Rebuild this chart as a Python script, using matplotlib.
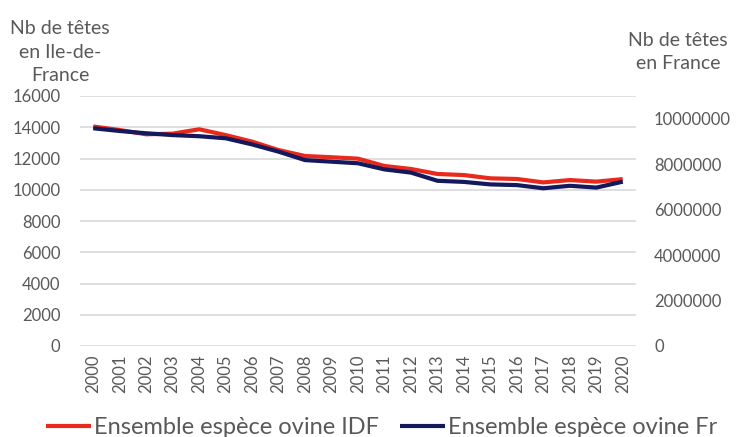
import matplotlib
matplotlib.use("Agg")
import matplotlib.pyplot as plt
from matplotlib.ticker import FuncFormatter

plt.rcParams['font.family'] = ['Lato', 'DejaVu Sans']

years = [str(y) for y in range(2000, 2021)]
idf = [14050, 13820, 13550, 13590, 13870, 13500, 13080, 12540, 12160, 12080,
       11990, 11520, 11330, 11010, 10940, 10730, 10690, 10470, 10620, 10520, 10680]
france = [9580000, 9460000, 9360000, 9280000, 9230000, 9140000, 8870000, 8550000,
          8180000, 8110000, 8040000, 7770000, 7630000, 7270000, 7220000, 7110000,
          7080000, 6940000, 7050000, 6970000, 7230000]
left_ticks = list(range(0, 16001, 2000))
right_ticks = list(range(0, 10000001, 2000000))
label_idf = "Ensemble espèce ovine IDF"
label_fr = "Ensemble espèce ovine Fr"

W, H = 739, 437
fig = plt.figure(figsize=(W / 100, H / 100), dpi=100)
ax = fig.add_axes([80 / W, (H - 346) / H, (636 - 80) / W, 250 / H])
ax2 = ax.twinx()

grey = '#595959'
red = '#E8291C'
navy = '#13195C'

x = list(range(len(years)))
l1, = ax.plot(x, idf, color=red, lw=3.0, solid_capstyle='butt', zorder=3)
l2, = ax2.plot(x, france, color=navy, lw=3.0, solid_capstyle='butt', zorder=3)

ax.set_ylim(0, 16000)
ax.set_yticks(left_ticks)
ax2.set_ylim(0, 11000000)
ax2.set_yticks(right_ticks)
ax2.yaxis.set_major_formatter(FuncFormatter(lambda v, p: f"{int(round(v))}"))
ax.set_xlim(-0.5, len(years) - 0.5)
ax.set_xticks(x)
ax.set_xticklabels(years, rotation=90)

ax.grid(axis='y', color='#d9d9d9', lw=1.2, zorder=0)
ax.set_axisbelow(True)
for a in (ax, ax2):
    for s in a.spines.values():
        s.set_visible(False)
    a.tick_params(length=0, colors=grey, labelsize=12)
ax.tick_params(axis='y', pad=14)
ax2.tick_params(axis='y', pad=13)
ax.tick_params(axis='x', pad=6)
ax2.set_zorder(ax.get_zorder() + 1)

fig.text(60 / W, 1 - 52 / H, "Nb de têtes\nen Ile-de-\nFrance", ha='center', va='center',
         color=grey, fontsize=14, linespacing=1.45)
fig.text(678 / W, 1 - 52 / H, "Nb de têtes\nen France", ha='center', va='center',
         color=grey, fontsize=14, linespacing=1.45)

leg = fig.legend([l1, l2], [label_idf, label_fr], loc='center', ncol=2,
                 bbox_to_anchor=(0.516, 9 / H), frameon=False, fontsize=17,
                 handlelength=1.9, handletextpad=0.12, columnspacing=0.9,
                 borderpad=0, borderaxespad=0)
for t in leg.get_texts():
    t.set_color(grey)

fig.savefig("out.png", dpi=100)
